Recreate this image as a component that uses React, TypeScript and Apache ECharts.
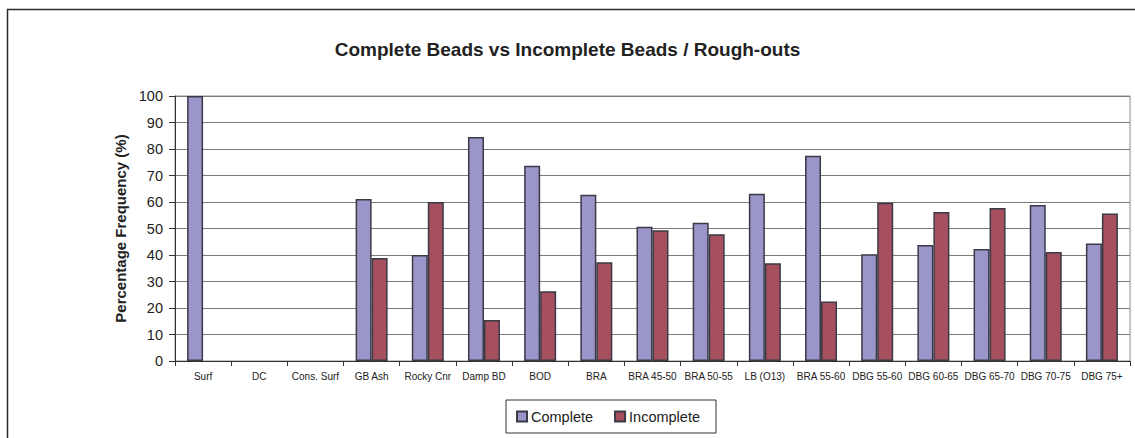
import React, { useEffect, useRef } from "react";
import * as echarts from "echarts";

const categories = [
  "Surf", "DC", "Cons. Surf", "GB Ash", "Rocky Cnr", "Damp BD", "BOD", "BRA",
  "BRA 45-50", "BRA 50-55", "LB (O13)", "BRA 55-60", "DBG 55-60", "DBG 60-65",
  "DBG 65-70", "DBG 70-75", "DBG 75+",
];
const complete = [100, null, null, 61.1, 40.0, 84.5, 73.7, 62.7, 50.7, 52.2, 63.1, 77.5, 40.3, 43.8, 42.3, 58.9, 44.3];
const incomplete = [null, null, null, 38.9, 60.0, 15.5, 26.3, 37.3, 49.3, 47.8, 36.9, 22.5, 59.7, 56.2, 57.7, 41.1, 55.7];
const yTicks = { min: 0, max: 100, interval: 10 };

export default function App() {
  const ref = useRef<HTMLDivElement>(null);
  useEffect(() => {
    if (!ref.current) return;
    const chart = echarts.init(ref.current, undefined, { renderer: "svg" });
    const font = "Arial, 'Liberation Sans', Helvetica, sans-serif";
    chart.setOption({
      animation: false,
      textStyle: { fontFamily: font },
      title: {
        text: "Complete Beads vs Incomplete Beads / Rough-outs",
        left: "center",
        top: 35,
        textStyle: { fontSize: 19, fontWeight: "bold", color: "#222", fontFamily: font },
      },
      graphic: [
        {
          type: "rect",
          shape: { x: 7.5, y: 9.5, width: 1140, height: 440 },
          style: { fill: "none", stroke: "#2a2a2a", lineWidth: 1.5 },
          silent: true,
        },
      ],
      legend: {
        left: 506,
        top: 400,
        itemWidth: 10,
        itemHeight: 10,
        itemGap: 21,
        padding: [9, 16, 9, 10],
        borderColor: "#333",
        borderWidth: 1,
        icon: "rect",
        textStyle: { fontSize: 14.5, color: "#222", fontFamily: font, padding: [0, 0, 0, -1] },
        data: ["Complete", "Incomplete"],
      },
      grid: {
        left: 175,
        right: 5,
        top: 96,
        bottom: 77,
        show: true,
        borderColor: "#8c8c8c",
        borderWidth: 1,
      },
      xAxis: {
        type: "category",
        data: categories,
        boundaryGap: true,
        axisLine: { lineStyle: { color: "#333", width: 1 } },
        axisTick: { show: true, length: 5, interval: 0, lineStyle: { color: "#333" } },
        axisLabel: { interval: 0, fontSize: 10, color: "#222", margin: 10, fontFamily: font },
      },
      yAxis: {
        type: "value",
        min: yTicks.min,
        max: yTicks.max,
        interval: yTicks.interval,
        name: "Percentage Frequency (%)",
        nameLocation: "middle",
        nameGap: 45,
        nameTextStyle: { fontSize: 15, fontWeight: "bold", color: "#222", fontFamily: font },
        axisLine: { show: true, lineStyle: { color: "#333", width: 1 } },
        axisTick: { show: true, length: 6, lineStyle: { color: "#333" } },
        axisLabel: { fontSize: 14.5, color: "#222", margin: 12, fontFamily: font },
        splitLine: { show: true, lineStyle: { color: "#7a7a7a", width: 1 } },
      },
      series: [
        {
          name: "Complete",
          type: "bar",
          data: complete,
          barWidth: 16,
          barGap: "0%",
          itemStyle: { color: "#9b96c9", borderColor: "#3a3a46", borderWidth: 1.5 },
        },
        {
          name: "Incomplete",
          type: "bar",
          data: incomplete,
          barWidth: 16,
          barGap: "0%",
          itemStyle: { color: "#a54f5f", borderColor: "#3a3a46", borderWidth: 1.5 },
        },
      ],
    });
    return () => chart.dispose();
  }, []);
  return (
    <div
      ref={ref}
      style={{ position: "fixed", left: 0, top: 0, width: 1135, height: 438, background: "#fff" }}
    />
  );
}
